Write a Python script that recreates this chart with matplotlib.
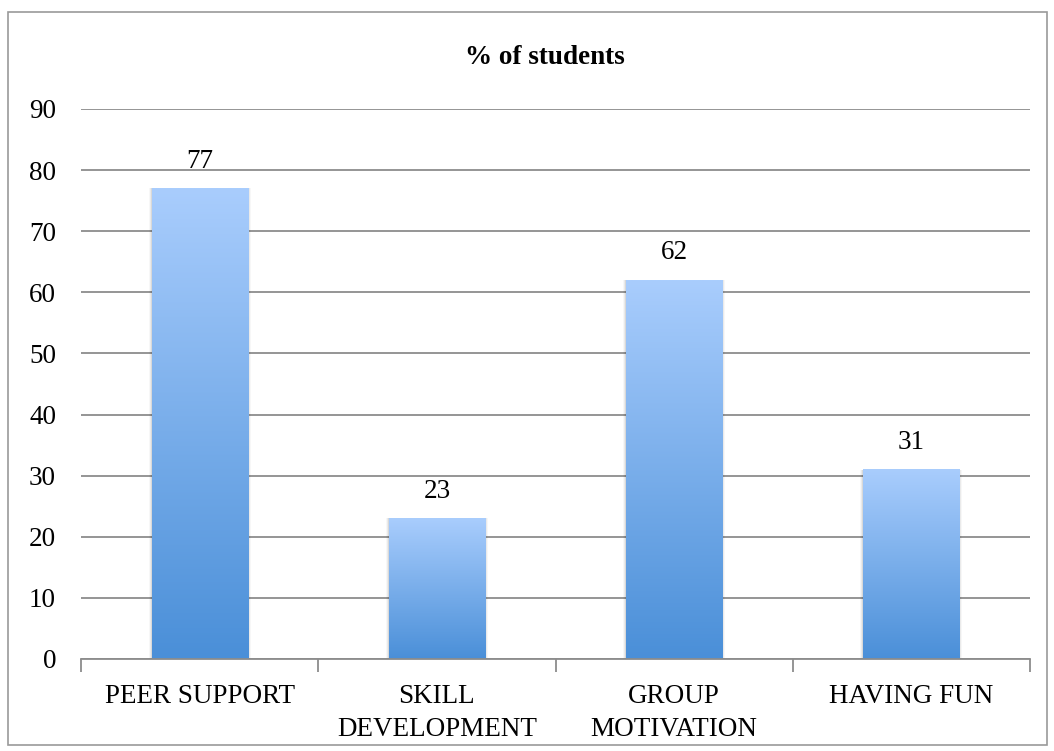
import matplotlib
matplotlib.use("Agg")
import matplotlib.pyplot as plt
import numpy as np
from matplotlib.colors import LinearSegmentedColormap
from matplotlib.patches import Rectangle

categories = ["PEER SUPPORT", "SKILL\nDEVELOPMENT", "GROUP\nMOTIVATION", "HAVING FUN"]
percent = [77, 23, 62, 31]
yticks = [0, 10, 20, 30, 40, 50, 60, 70, 80, 90]

plt.rcParams["font.family"] = ["Liberation Serif", "DejaVu Serif"]
FS = 19.5

fig = plt.figure(figsize=(10.54, 7.51), dpi=100)
ax = fig.add_axes([81 / 1054, 1 - 659 / 751, (1030 - 81) / 1054, (659 - 109) / 751])

# outer chart frame
fig.patches.append(Rectangle((8 / 1054, 1 - 745 / 751), 1039 / 1054, 733 / 751,
                             transform=fig.transFigure, fill=False,
                             edgecolor="#9a9a9a", linewidth=1.2))

x = np.arange(len(categories))
width = 0.405
bars = ax.bar(x, percent, width, color="none", zorder=3)

cmap = LinearSegmentedColormap.from_list("bar", ["#4a8fd8", "#a9cdfd"])
grad = np.linspace(0, 1, 256).reshape(-1, 1)
for b, v in zip(bars, percent):
    x0 = b.get_x()
    # soft drop shadow
    for k, a in enumerate([0.08, 0.05, 0.03]):
        ax.add_patch(Rectangle((x0 - 0.004 * (k + 1), 0), width + 0.008 * (k + 1),
                               v, color="#000000", alpha=a,
                               linewidth=0, zorder=2))
    ax.imshow(grad, cmap=cmap, origin="lower", aspect="auto",
              extent=(x0, x0 + width, 0, v), zorder=3)
    ax.text(x0 + width / 2, v + 2.4, f"{v}", ha="center", va="bottom",
            fontsize=FS, zorder=4)

ax.set_xlim(-0.5, len(categories) - 0.5)
ax.set_ylim(0, 90)
ax.set_yticks(yticks)
ax.set_yticklabels([str(t) for t in yticks], fontsize=FS)
ax.yaxis.grid(True, color="#8c8c8c", linewidth=1.3, zorder=1)
ax.set_axisbelow(True)
ax.tick_params(axis="y", length=0, pad=18)

ax.set_xticks(np.arange(len(categories) + 1) - 0.5)
ax.set_xticklabels([])
ax.set_xticks(x, minor=True)
ax.set_xticklabels(categories, minor=True, fontsize=FS, linespacing=1.4)
ax.tick_params(axis="x", which="major", length=9, color="#8c8c8c", width=1.3)
ax.tick_params(axis="x", which="minor", length=0, pad=18)

for s in ["top", "right", "left"]:
    ax.spines[s].set_visible(False)
ax.spines["bottom"].set_color("#8c8c8c")
ax.spines["bottom"].set_linewidth(1.3)
ax.spines["bottom"].set_zorder(5)

fig.text(545 / 1054, 1 - 57 / 751, "% of students", ha="center", va="center",
         fontsize=FS, fontweight="bold")

fig.savefig("out.png", dpi=100)
